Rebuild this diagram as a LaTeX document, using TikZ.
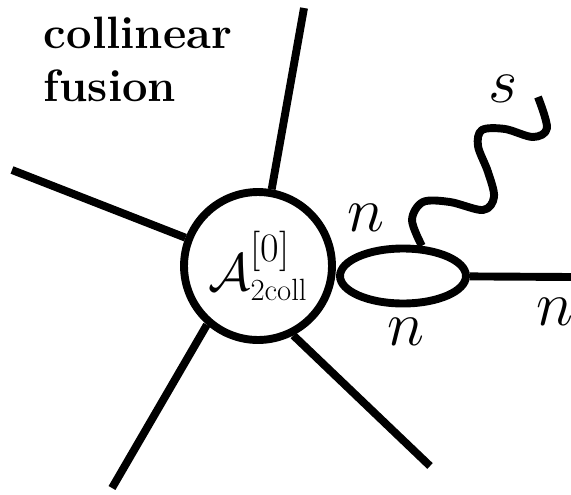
\documentclass[tikz,border=0pt]{standalone}
\usepackage{fix-cm}
\usepackage{amsmath}
\usetikzlibrary{shapes.geometric}

\begin{document}
\begin{tikzpicture}[x=0.02cm,y=-0.02cm,line width=4.5pt,
    lbl/.style={inner sep=0pt,font=\fontsize{36}{36}\selectfont}]
    \useasboundingbox (0,0) rectangle (571,494);
    \node[anchor=north west,align=left,inner sep=0pt,font=\fontsize{25.8}{30}\selectfont\bfseries] (title) at (40,13) {collinear\\fusion};
    % hard part and the collinear loop
    \node[circle,draw,minimum size=2.96cm,inner sep=0pt,font=\fontsize{30}{30}\selectfont] (blob) at (258,266)
        {$\displaystyle\mathcal{A}^{\mbox{\fontsize{23}{23}\selectfont[0]}}_{\mbox{\fontsize{17.5}{17.5}\selectfont 2coll}}$};
    \node[ellipse,draw,minimum width=2.52cm,minimum height=1.1cm,inner sep=0pt] (loop) at (403,276) {};
    % outer ends of the legs
    \coordinate (top) at (304,8);
    \coordinate (ul) at (12,170);
    \coordinate (ll) at (112,488);
    \coordinate (lr) at (430,466);
    \coordinate (out) at (571,277);
    \draw (blob) -- (top);
    \draw (blob) -- (ul);
    \draw (blob.229) -- (ll);
    \draw (blob.-63) -- (lr);
    \draw (loop) -- (out);
    % soft gluon
    \draw[line join=round] plot[smooth,tension=0.55] coordinates {(loop.58) (412,220) (423,202) (450,202) (483,210) (494,197) (488,172) (478,146) (482,130) (505,129) (533,137) (547,128) (538,97)};
    \node[lbl] (s) at (503,89) {$s$};
    \node[lbl] (n1) at (366,218) {$n$};
    \node[lbl] (n2) at (406,332) {$n$};
    \node[lbl] (n3) at (555,312) {$n$};
\end{tikzpicture}
\end{document}
